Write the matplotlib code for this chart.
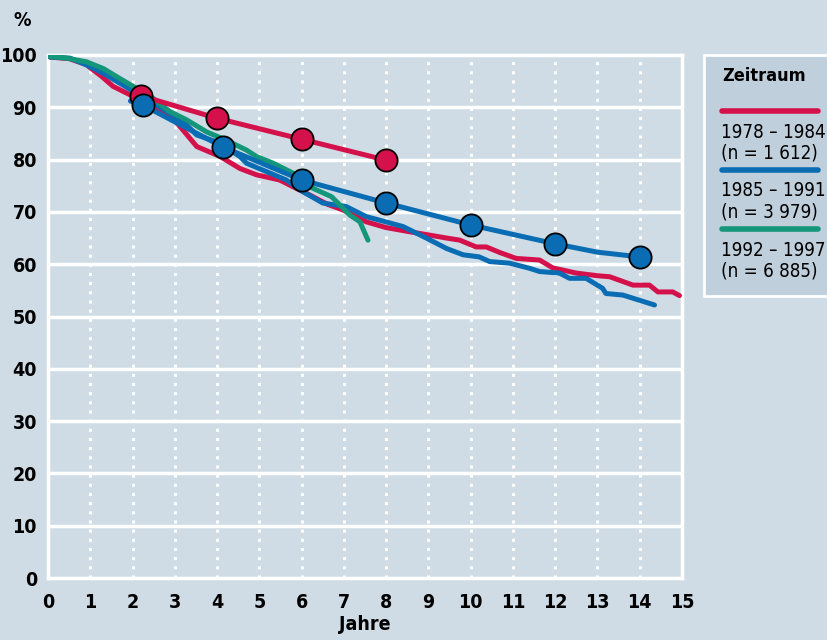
import numpy as np
import matplotlib.pyplot as plt
from matplotlib.patches import Rectangle

plt.rcParams['font.family'] = ['DejaVu Sans']
plt.rcParams['font.stretch'] = 'condensed'

# Kaplan-Meier Kurven (Jahre, %)
rot_x = [0.05, 0.5, 0.9, 1.27, 1.54, 1.94, 2.5, 2.96, 3.52, 4.07, 4.54, 4.93, 5.48, 5.8, 6.2, 6.6,
         7.0, 7.53, 8.0, 8.56, 9.0, 9.43, 9.74, 10.13, 10.37, 10.7, 11.08, 11.63, 11.94, 12.5,
         13.0, 13.29, 13.84, 14.23, 14.43, 14.78, 14.94]
rot_y = [99.6, 99.3, 98.2, 95.9, 94.0, 92.4, 90.2, 87.9, 82.5, 80.6, 78.3, 77.1, 76.1, 74.8, 73.2, 71.5,
         70.3, 68.1, 67.0, 66.2, 65.6, 65.0, 64.6, 63.3, 63.3, 62.2, 61.1, 60.8, 59.3, 58.3,
         57.8, 57.6, 56.0, 56.0, 54.7, 54.7, 54.0]

blau_x = [0.05, 0.52, 0.91, 1.31, 1.7, 2.1, 2.57, 2.96, 3.28, 3.52, 3.99, 4.54, 4.7, 5.17, 5.64,
          5.96, 6.5, 7.06, 7.53, 8.4, 8.95, 9.43, 9.82, 10.2, 10.45, 10.92, 11.4, 11.63, 12.1,
          12.34, 12.73, 13.12, 13.2, 13.6, 14.35]
blau_y = [99.6, 99.4, 98.1, 96.5, 94.6, 92.7, 90.4, 88.5, 86.6, 84.7, 83.4, 80.6, 79.3, 77.7, 76.1,
          74.2, 71.7, 71.0, 69.1, 67.2, 65.0, 63.0, 61.8, 61.4, 60.5, 60.2, 59.2, 58.6, 58.3,
          57.3, 57.3, 55.4, 54.4, 54.1, 52.2]

gruen_x = [0.05, 0.44, 0.91, 1.31, 1.7, 2.1, 2.49, 2.88, 3.28, 3.75, 4.22, 4.7, 4.93, 5.33, 5.8,
           6.19, 6.71, 7.14, 7.38, 7.57]
gruen_y = [99.7, 99.4, 98.7, 97.4, 95.5, 93.6, 91.7, 89.2, 87.6, 85.3, 83.7, 81.8, 80.6, 79.3, 77.4,
           74.8, 72.9, 69.4, 68.1, 64.6]

# Punkte mit Verbindungslinien
rot_pkt_x = [2.2, 4.0, 6.0, 8.0]
rot_pkt_y = [92.2, 87.9, 83.9, 79.9]
blau_lin_x = [1.95, 2.25, 4.14, 6.0, 8.0, 10.0, 12.0, 13.0, 14.0]
blau_lin_y = [91.2, 90.4, 82.4, 76.1, 71.7, 67.5, 63.9, 62.3, 61.4]
blau_pkt_x = [2.25, 4.14, 6.0, 8.0, 10.0, 12.0, 14.0]
blau_pkt_y = [90.4, 82.4, 76.1, 71.7, 67.5, 63.9, 61.4]

rot = '#d4114b'
blau = '#0a6db3'
gruen = '#139679'
bg = '#cfdce5'

fig = plt.figure(figsize=(8.27, 6.40), dpi=100, facecolor=bg)
ax = fig.add_axes([48/827, 62/640, 634/827, 523/640])
ax.set_facecolor(bg)

ax.set_xlim(0, 15)
ax.set_ylim(0, 100)
for s in ax.spines.values():
    s.set_color('white')
    s.set_linewidth(2.5)

for y in range(10, 100, 10):
    ax.axhline(y, color='white', lw=2.5, zorder=1)
for x in range(1, 15):
    ax.axvline(x, color='white', lw=2.2, ls=(0, (1, 2)), zorder=1)

lw = 3.6
ax.plot(rot_x, rot_y, color=rot, lw=lw, zorder=3, solid_capstyle='round')
ax.plot(blau_x, blau_y, color=blau, lw=lw, zorder=3, solid_capstyle='round')
ax.plot(gruen_x, gruen_y, color=gruen, lw=lw, zorder=4, solid_capstyle='round')

ax.plot(rot_pkt_x, rot_pkt_y, color=rot, lw=lw, zorder=5)
ax.plot(rot_pkt_x, rot_pkt_y, 'o', color=rot, ms=16, mec='black', mew=1.3, zorder=6)
ax.plot(blau_lin_x, blau_lin_y, color=blau, lw=lw, zorder=5, solid_capstyle='round')
ax.plot(blau_pkt_x, blau_pkt_y, 'o', color=blau, ms=16, mec='black', mew=1.3, zorder=7)

ax.set_xticks(range(0, 16))
ax.set_yticks(range(0, 101, 10))
ax.tick_params(axis='x', length=0, labelsize=14, pad=11)
ax.tick_params(axis='y', length=0, labelsize=14, pad=8)
for lab in ax.get_xticklabels() + ax.get_yticklabels():
    lab.set_fontweight('bold')
ax.set_xlabel('Jahre', fontsize=14, fontweight='bold', labelpad=2)
fig.text(22/827, 1 - 20/640, '%', fontsize=14, fontweight='bold', ha='center', va='center')

# Legende
fig.patches.append(Rectangle((704/827, (640-296)/640), 130/827, 241/640, transform=fig.transFigure,
                             facecolor='#bfcfdb', edgecolor='white', lw=2))
fig.text(722/827, 1 - 76/640, 'Zeitraum', fontsize=13, fontweight='bold', va='center')
eintraege = [('1978 – 1984', '(n = 1 612)', rot),
             ('1985 – 1991', '(n = 3 979)', blau),
             ('1992 – 1997', '(n = 6 885)', gruen)]
for i, (t1, t2, c) in enumerate(eintraege):
    y0 = 111 + i * 59
    fig.add_artist(plt.Line2D([722/827, 818/827], [1 - y0/640, 1 - y0/640], color=c, lw=4,
                              solid_capstyle='round', transform=fig.transFigure))
    fig.text(721/827, 1 - (y0 + 21)/640, t1, fontsize=13.5, va='center')
    fig.text(721/827, 1 - (y0 + 42)/640, t2, fontsize=13.5, va='center')

fig.savefig('out.png', dpi=100, facecolor=bg)
